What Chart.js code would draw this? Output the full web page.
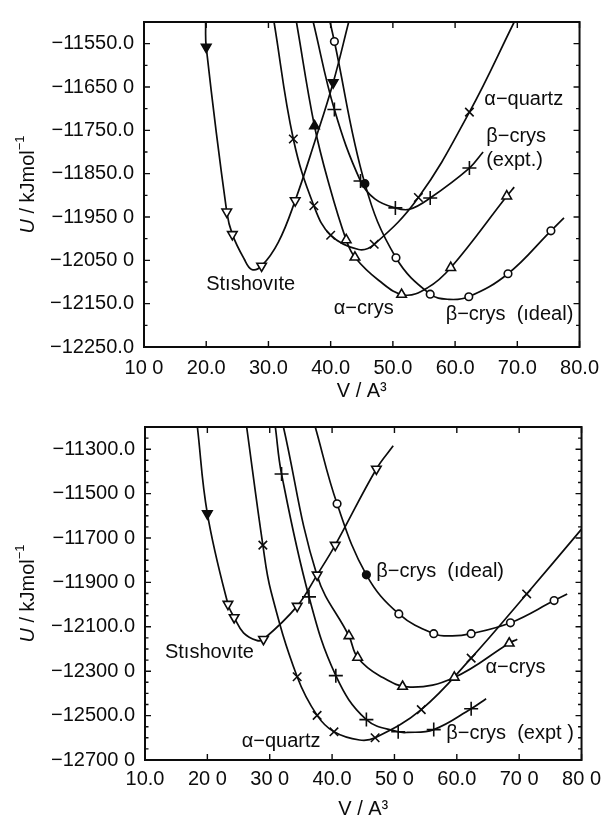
<!DOCTYPE html>
<html><head><meta charset="utf-8">
<script src="https://cdn.jsdelivr.net/npm/chart.js@4/dist/chart.umd.min.js"></script>
<style>
html,body{margin:0;padding:0;background:#fff;}
body{width:608px;height:823px;position:relative;overflow:hidden;}
canvas{position:absolute;left:0;}
#c1{top:0;} #c2{top:405px;}
</style></head><body>
<canvas id="c1" width="608" height="405"></canvas>
<canvas id="c2" width="608" height="418"></canvas>
<script>
const INK = '#0c0c0c';
const FONT = '"Liberation Sans", Arial, Helvetica, sans-serif';

// ---------- top panel: axes ----------
const topXTicks = [10,20,30,40,50,60,70,80];
const topXLabels = ['10 0','20.0','30.0','40.0','50.0','60.0','70.0','80.0'];
const topYTicks = [-11550,-11650,-11750,-11850,-11950,-12050,-12150,-12250];
const topYLabels = ['\u221211550.0','\u221211650 0','\u221211750.0','\u221211850.0','\u221211950 0','\u221212050 0','\u221212150.0','\u221212250.0'];
const topYMinor = [-11500,-11600,-11700,-11800,-11900,-12000,-12100,-12200];

// ---------- top panel: series (V in A^3, U in kJ/mol) ----------
const topStishCurve = [[19.9,-11500],[20.0,-11558],[23.3,-11938],[24.2,-11990],[26.1,-12047],[27.3,-12071],[28.9,-12063],[31.6,-12008],[34.3,-11912],[37.4,-11778],[40.4,-11640],[42.9,-11500]];
const topStishMarks = [[20.0,-11558],[23.3,-11938],[24.2,-11990],[28.9,-12063],[34.3,-11912],[40.4,-11640]];
const topQuartzCurve = [[30.9,-11500],[34.0,-11770],[37.3,-11924],[40.0,-11992],[44.5,-12025],[47.0,-12013],[54.1,-11905],[62.3,-11708],[69.5,-11500]];
const topQuartzMarks = [[34.0,-11770],[37.3,-11924],[40.0,-11992],[47.0,-12013],[54.1,-11905],[62.3,-11708]];
const topACrysCurve = [[34.5,-11500],[37.4,-11740],[39.8,-11878],[42.5,-12003],[43.9,-12043],[47.7,-12096],[51.8,-12130],[55.6,-12113],[59.3,-12067],[68.3,-11902],[69.5,-11881]];
const topACrysMarks = [[37.4,-11740],[42.5,-12003],[43.9,-12043],[51.4,-12129],[59.3,-12067],[68.3,-11902]];
const topExptCurve = [[37.2,-11500],[40.6,-11702],[44.8,-11867],[47.1,-11908],[50.4,-11929],[52.7,-11932],[56.0,-11906],[62.3,-11837],[64.5,-11800]];
const topExptMarks = [[40.6,-11702],[44.8,-11867],[50.4,-11929],[56.0,-11906],[62.3,-11837]];
const topIdealCurve = [[39.9,-11500],[40.6,-11545],[45.5,-11873],[50.5,-12044],[56.0,-12128],[59.0,-12140],[62.2,-12134],[68.5,-12081],[75.4,-11982],[77.5,-11952]];
const topIdealMarks = [[40.6,-11545],[45.5,-11873],[50.5,-12044],[56.0,-12128],[62.2,-12134],[68.5,-12081],[75.4,-11982]];

const topNoteText = ['St\u0131shov\u0131te','\u03b1\u2212crys','\u03b2\u2212crys  (\u0131deal)','\u03b1\u2212quartz','\u03b2\u2212crys','(expt.)'];
const topNoteAt = [[20.0,-12106],[40.5,-12162],[79.0,-12174],[64.7,-11679],[65.0,-11765],[65.0,-11819]];
const topNoteAlign = ['left','left','right','left','left','left'];

// ---------- bottom panel: axes ----------
const botXTicks = [10,20,30,40,50,60,70,80];
const botXLabels = ['10.0','20 0','30 0','40.0','50 0','60.0','70 0','80 0'];
const botYTicks = [-11300,-11500,-11700,-11900,-12100,-12300,-12500,-12700];
const botYLabels = ['\u221211300.0','\u221211500 0','\u221211700 0','\u221211900 0','\u221212100.0','\u221212300 0','\u221212500.0','\u221212700 0'];
const botYMinor = [-11200,-11250,-11350,-11400,-11450,-11550,-11600,-11650,-11750,-11800,-11850,-11950,-12000,-12050,-12150,-12200,-12250,-12350,-12400,-12450,-12550,-12600,-12650];

// ---------- bottom panel: series ----------
const botStishCurve = [[18.4,-11200],[20.0,-11590],[23.3,-11998],[24.3,-12058],[25.8,-12127],[27.9,-12161],[29.0,-12156],[34.4,-12007],[37.6,-11866],[40.5,-11732],[47.1,-11389],[49.8,-11285]];
const botStishMarks = [[20.0,-11590],[23.3,-11998],[24.3,-12058],[29.0,-12156],[34.4,-12007],[37.6,-11866],[40.5,-11732],[47.1,-11389]];
const botQuartzCurve = [[26.3,-11200],[28.9,-11732],[30.2,-11940],[34.4,-12325],[37.6,-12499],[40.3,-12573],[44.4,-12610],[46.9,-12600],[54.3,-12473],[62.3,-12241],[71.2,-11952],[80.0,-11660]];
const botQuartzMarks = [[28.9,-11732],[34.4,-12325],[37.6,-12499],[40.3,-12573],[46.9,-12600],[54.3,-12473],[62.3,-12241],[71.2,-11952]];
const botExptCurve = [[30.9,-11200],[31.9,-11412],[36.3,-11965],[40.6,-12320],[45.5,-12518],[50.6,-12573],[52.0,-12576],[56.3,-12563],[62.3,-12469],[64.7,-12424]];
const botExptMarks = [[31.9,-11412],[36.3,-11965],[40.6,-12320],[45.5,-12518],[50.6,-12573],[56.3,-12563],[62.3,-12469]];
const botACrysCurve = [[32.2,-11200],[37.6,-11870],[42.7,-12141],[44.1,-12238],[47.6,-12320],[52.5,-12372],[59.6,-12328],[68.4,-12174],[69.7,-12156]];
const botACrysMarks = [[42.7,-12141],[44.1,-12238],[51.3,-12369],[59.6,-12328],[68.4,-12174]];
const botIdealCurve = [[37.3,-11200],[40.8,-11546],[45.5,-11866],[50.7,-12042],[56.3,-12131],[59.3,-12141],[62.3,-12131],[68.6,-12082],[75.6,-11982],[77.7,-11952]];
const botIdealMarks = [[40.8,-11546],[45.5,-11866],[50.7,-12042],[56.3,-12131],[62.3,-12131],[68.6,-12082],[75.6,-11982]];

const botNoteText = ['St\u0131shov\u0131te','\u03b1\u2212quartz','\u03b2\u2212crys  (\u0131deal)','\u03b1\u2212crys','\u03b2\u2212crys  (expt )'];
const botNoteAt = [[13.2,-12217],[25.5,-12616],[47.1,-11851],[64.6,-12285],[58.3,-12580]];
const botNoteAlign = ['left','left','left','left','left'];

// ---------- marker styles ----------
const STISH = {style:'triangle', rot:180, r:5.5};
const QUARTZ = {style:'crossRot', rot:0, r:6};
const EXPT = {style:'cross', rot:0, r:7};
const ACRYS = {style:'triangle', rot:0, r:5.5};
const IDEAL = {style:'circle', rot:0, r:3.8};

function pts(a){ return a.map(p => ({x:p[0], y:p[1]})); }
function lineDs(curve){
  return {data:pts(curve), showLine:true, borderColor:INK, borderWidth:1.7,
    pointRadius:0, pointHoverRadius:0, tension:0.4, fill:false, order:2};
}
function markDs(marks, st, filled){
  const fills = marks.map((m,i) => (filled||[]).includes(i) ? INK : '#fff');
  return {data:pts(marks), showLine:false, pointStyle:st.style, pointRotation:st.rot,
    pointRadius:st.r, pointHoverRadius:st.r, pointBorderColor:INK, pointBackgroundColor:fills,
    pointBorderWidth:1.6, order:1};
}

const framePlugin = {
  id:'frame',
  afterDatasetsDraw(chart, args, o){
    const {ctx, chartArea:a, scales:{x, y}} = chart;
    ctx.save();
    ctx.strokeStyle = INK;
    ctx.lineWidth = 1.4;
    ctx.beginPath();
    o.xMajor.forEach(v => { const p = x.getPixelForValue(v);
      ctx.moveTo(p, a.bottom); ctx.lineTo(p, a.bottom - 6);
      ctx.moveTo(p, a.top); ctx.lineTo(p, a.top + 6); });
    o.yMajor.forEach(v => { const p = y.getPixelForValue(v);
      ctx.moveTo(a.left, p); ctx.lineTo(a.left + 6, p);
      ctx.moveTo(a.right, p); ctx.lineTo(a.right - 6, p); });
    o.yMinor.forEach(v => { const p = y.getPixelForValue(v);
      ctx.moveTo(a.left, p); ctx.lineTo(a.left + 3.5, p);
      ctx.moveTo(a.right, p); ctx.lineTo(a.right - 3.5, p); });
    ctx.stroke();
    ctx.lineWidth = 2;
    ctx.strokeRect(a.left, a.top, a.right - a.left, a.bottom - a.top);
    ctx.restore();
  }
};

const notesPlugin = {
  id:'notes',
  afterDatasetsDraw(chart, args, o){
    const {ctx, chartArea:a, scales:{x, y}} = chart;
    ctx.save();
    ctx.fillStyle = INK;
    ctx.textBaseline = 'middle';
    ctx.font = '20px ' + FONT;
    o.text.forEach((t, i) => {
      ctx.textAlign = o.align[i];
      ctx.fillText(t, x.getPixelForValue(o.at[i][0]), y.getPixelForValue(o.at[i][1]));
    });
    // y axis title: U / kJmol^-1  (U italic)
    const segs = [
      {t:'U', f:'italic 20px ' + FONT, dy:0},
      {t:' / kJmol', f:'20px ' + FONT, dy:0},
      {t:'\u22121', f:'13px ' + FONT, dy:-8}
    ];
    let total = 0;
    segs.forEach(s => { ctx.font = s.f; s.w = ctx.measureText(s.t).width; total += s.w; });
    ctx.translate(o.titleX, (a.top + a.bottom) / 2);
    ctx.rotate(-Math.PI / 2);
    ctx.textAlign = 'left';
    let cx = -total / 2;
    segs.forEach(s => { ctx.font = s.f; ctx.fillText(s.t, cx, s.dy); cx += s.w; });
    ctx.restore();
  }
};

function makeChart(id, c){
  return new Chart(document.getElementById(id), {
    type:'scatter',
    data:{datasets:c.datasets},
    options:{
      responsive:false, animation:false, devicePixelRatio:1,
      layout:{padding:c.pad},
      plugins:{
        legend:{display:false}, tooltip:{enabled:false},
        frame:{xMajor:c.xTicks, yMajor:c.yTicks, yMinor:c.yMinor},
        notes:{text:c.noteText, at:c.noteAt, align:c.noteAlign, titleX:c.titleX}
      },
      scales:{
        x:{type:'linear', min:10, max:80,
          afterBuildTicks:s => { s.ticks = c.xTicks.map(v => ({value:v})); },
          afterFit:s => { s.height = c.xH; },
          grid:{display:false, drawTicks:false}, border:{display:false},
          ticks:{autoSkip:false, maxRotation:0, padding:c.xPad, color:INK,
            font:{family:FONT, size:20}, callback:(v, i) => c.xLabels[i]},
          title:{display:true, text:'V / A\u00b3', color:INK, font:{family:FONT, size:20},
            padding:{top:0, bottom:2}}
        },
        y:{type:'linear', min:c.yMin, max:c.yMax,
          afterBuildTicks:s => { s.ticks = c.yTicks.map(v => ({value:v})); },
          afterFit:s => { s.width = c.yW; },
          grid:{display:false, drawTicks:false}, border:{display:false},
          ticks:{autoSkip:false, padding:10, color:INK,
            font:{family:FONT, size:20}, callback:(v, i) => c.yLabels[i]}
        }
      }
    },
    plugins:[framePlugin, notesPlugin]
  });
}

makeChart('c1', {
  datasets:[
    markDs(topStishMarks, STISH, [0,5]), markDs(topQuartzMarks, QUARTZ), markDs(topACrysMarks, ACRYS, [0]),
    markDs(topExptMarks, EXPT), markDs(topIdealMarks, IDEAL, [1]),
    lineDs(topStishCurve), lineDs(topQuartzCurve), lineDs(topACrysCurve), lineDs(topExptCurve), lineDs(topIdealCurve)
  ],
  pad:{top:13, right:20, bottom:0, left:0},
  xH:58, yW:144, xPad:9, titleX:28,
  yMin:-12250, yMax:-11500,
  xTicks:topXTicks, xLabels:topXLabels, yTicks:topYTicks, yLabels:topYLabels, yMinor:topYMinor,
  noteText:topNoteText, noteAt:topNoteAt, noteAlign:topNoteAlign
});

makeChart('c2', {
  datasets:[
    markDs(botStishMarks, STISH, [0]), markDs(botQuartzMarks, QUARTZ), markDs(botACrysMarks, ACRYS),
    markDs(botExptMarks, EXPT), markDs(botIdealMarks, IDEAL, [1]),
    lineDs(botStishCurve), lineDs(botQuartzCurve), lineDs(botACrysCurve), lineDs(botExptCurve), lineDs(botIdealCurve)
  ],
  pad:{top:18, right:21, bottom:0, left:0},
  xH:63, yW:145, xPad:7, titleX:28,
  yMin:-12700, yMax:-11200,
  xTicks:botXTicks, xLabels:botXLabels, yTicks:botYTicks, yLabels:botYLabels, yMinor:botYMinor,
  noteText:botNoteText, noteAt:botNoteAt, noteAlign:botNoteAlign
});
</script>
</body></html>
